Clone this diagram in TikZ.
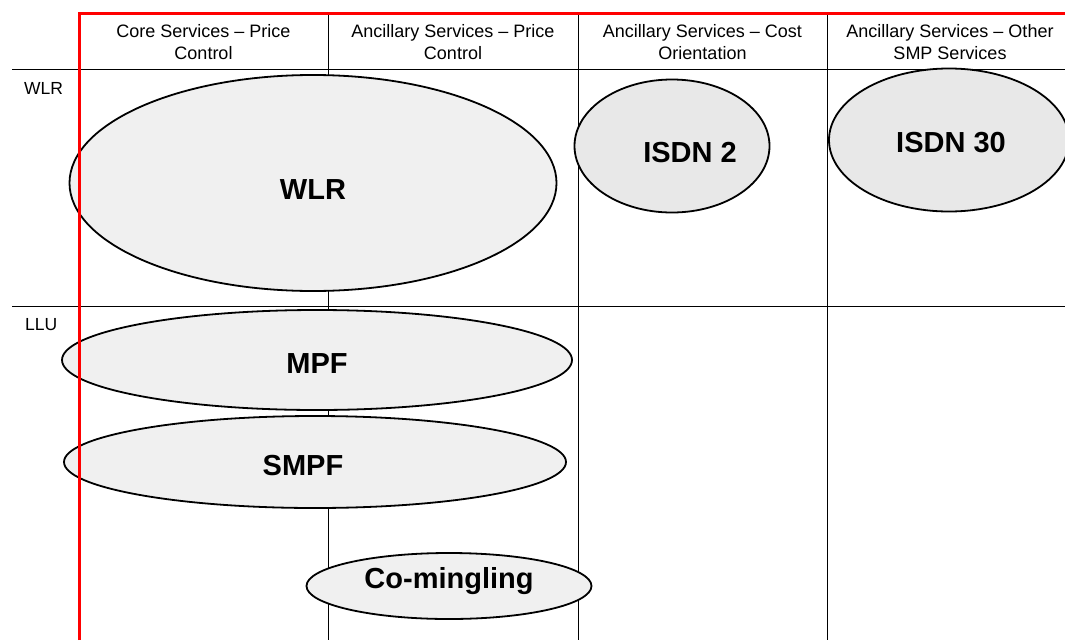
\documentclass[tikz,border=0pt]{standalone}
\usepackage{fontspec}
\setmainfont{Liberation Sans}
\usetikzlibrary{shapes.geometric}
\begin{document}
\begin{tikzpicture}[x=1pt,y=-1pt,
  grid/.style={draw=black,line width=0.8pt},
  redline/.style={draw=red,line width=3pt},
  hdr/.style={align=center,font=\fontsize{18}{22}\selectfont,inner sep=0pt},
  rowlab/.style={font=\fontsize{17.5}{20}\selectfont,inner sep=0pt,anchor=west},
  oval/.style={ellipse,draw=black,line width=1.8pt,fill=#1,inner sep=0pt},
  oval/.default={gray!12},
  big/.style={font=\bfseries\fontsize{29}{30}\selectfont,inner sep=0pt}]
\useasboundingbox (0,0) rectangle (1065,640);
% grid
\coordinate (hL) at (12,69);  \coordinate (hR) at (1065,69);
\coordinate (mL) at (12,306); \coordinate (mR) at (1065,306);
\draw[grid] (hL) -- (hR);
\draw[grid] (mL) -- (mR);
\foreach \x/\n in {328/a,578/b,827/c}{
  \coordinate (t\n) at (\x,13); \coordinate (b\n) at (\x,640);
  \draw[grid] (t\n) -- (b\n);
}
% ellipses
\node[oval,minimum width=487,minimum height=216] (eWLR) at (313,183) {};
\node[oval={gray!18},minimum width=195,minimum height=133] (eI2) at (672,146) {};
\node[oval={gray!18},minimum width=240,minimum height=143] (eI30) at (949,140) {};
\node[oval,minimum width=510,minimum height=100] (eMPF) at (317,360) {};
\node[oval,minimum width=502,minimum height=92] (eSMPF) at (315,462) {};
\node[oval,minimum width=285,minimum height=66] (eCo) at (449,586) {};
% red frame
\coordinate (rTL) at (79,13); \coordinate (rTR) at (1065,13); \coordinate (rBL) at (79,640);
\draw[redline] (rBL) -- (rTL) -- (rTR);
% headers
\node[hdr] (h1) at (203.5,42) {Core Services -- Price\\Control};
\node[hdr] (h2) at (453,42) {Ancillary Services -- Price\\Control};
\node[hdr] (h3) at (702.5,42) {Ancillary Services -- Cost\\Orientation};
\node[hdr] (h4) at (950,42) {Ancillary Services -- Other\\SMP Services};
% row labels
\node[rowlab] (rWLR) at (24,88) {WLR};
\node[rowlab] (rLLU) at (25,325) {LLU};
% ellipse labels
\node[big] (tWLR) at (313,190) {WLR};
\node[big] (tI2) at (690,153) {ISDN 2};
\node[big] (tI30) at (951,143) {ISDN 30};
\node[big] (tMPF) at (317,364) {MPF};
\node[big] (tSMPF) at (303,466) {SMPF};
\node[big] (tCo) at (449,581) {Co-mingling};
\end{tikzpicture}
\end{document}
